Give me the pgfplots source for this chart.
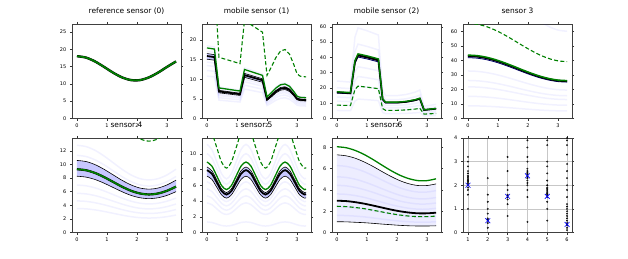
\documentclass[border=0pt]{standalone}
\usepackage{fontspec}
\setmainfont{DejaVu Sans}
\usepackage{pgfplots}
\usepackage{pgfplotstable}
\pgfplotsset{compat=1.18}
\definecolor{mplgreen}{RGB}{0,128,0}

\pgfplotsset{
  panel/.style={scale only axis, width=109bp, height=94.5bp, anchor=north west,
    xmin=-0.165, xmax=3.465, ymin=0, xtick={0,1,2,3},
    tick align=outside, major tick length=2.2bp,
    tick style={black!80, line width=0.5bp},
    axis line style={black!75, line width=0.6bp},
    tick label style={font=\fontsize{5.0}{6}\selectfont},
    xticklabel style={yshift=0.8bp},
    /pgf/number format/assume math mode=true,
    title style={font=\fontsize{7.5}{8}\selectfont, at={(0.5,1)}, anchor=base, yshift=4.2bp},
  },
  faint/.style={color=blue, opacity=0.055, line width=1.5bp, forget plot},
  band/.style={fill=blue, fill opacity=0.22, draw=none},
  thinb/.style={black, line width=0.6bp},
  thickb/.style={black, line width=1.8bp},
  gline/.style={mplgreen, line width=1.3bp},
  gdash/.style={mplgreen, line width=1.1bp, dash pattern=on 4bp off 2.3bp},
}

\pgfplotstableread{
x g
0 18.00
0.3 17.60
0.6 16.49
0.9 14.92
1.2 13.26
1.5 11.88
1.8 11.10
2.1 11.10
2.4 11.89
2.7 13.25
3.0 14.91
3.3 16.48
}\tA

\pgfplotstableread{
x g d u m l w f1 f2 f3 f4 f5 f6
0 18.0 36.0 16.56 15.93 15.12 1.44 10.80 12.24 13.50 14.40 17.10 18.54
0.25 17.7 35.4 16.28 15.66 14.87 1.41 10.62 12.04 13.28 14.16 16.82 18.23
0.4 7.8 15.6 7.18 6.90 6.55 0.63 4.68 5.30 5.85 6.24 7.41 8.03
1.1 7.0 14.0 6.44 6.20 5.88 0.56 4.20 4.76 5.25 5.60 6.65 7.21
1.25 12.5 25.0 11.50 11.06 10.50 1.00 7.50 8.50 9.38 10.00 11.88 12.88
1.85 11.0 22.0 10.12 9.74 9.24 0.88 6.60 7.48 8.25 8.80 10.45 11.33
2.0 5.5 11.0 5.06 4.87 4.62 0.44 3.30 3.74 4.13 4.40 5.23 5.67
2.15 6.6 13.2 6.07 5.84 5.54 0.53 3.96 4.49 4.95 5.28 6.27 6.80
2.3 7.8 15.6 7.18 6.90 6.55 0.63 4.68 5.30 5.85 6.24 7.41 8.03
2.45 8.6 17.2 7.91 7.61 7.22 0.69 5.16 5.85 6.45 6.88 8.17 8.86
2.6 8.8 17.6 8.10 7.79 7.39 0.71 5.28 5.98 6.60 7.04 8.36 9.06
2.75 8.2 16.4 7.54 7.26 6.89 0.65 4.92 5.58 6.15 6.56 7.79 8.45
2.9 6.8 13.6 6.26 6.02 5.71 0.55 4.08 4.62 5.10 5.44 6.46 7.00
3.0 5.7 11.4 5.24 5.04 4.79 0.45 3.42 3.88 4.28 4.56 5.42 5.87
3.1 5.4 10.8 4.97 4.78 4.54 0.43 3.24 3.67 4.05 4.32 5.13 5.56
3.3 5.3 10.6 4.88 4.69 4.45 0.43 3.18 3.60 3.98 4.24 5.04 5.46
}\tB

\pgfplotstableread{
x g d u m l w f1 f2 f3 f4 f5 f6
0 17.5 8.75 17.33 17.06 16.63 0.70 5.25 8.75 11.38 14.00 20.13 24.50
0.45 17.0 8.50 16.83 16.58 16.15 0.68 5.10 8.50 11.05 13.60 19.55 23.80
0.6 38.0 19.00 37.62 37.05 36.10 1.52 11.40 19.00 24.70 30.40 43.70 53.20
0.7 42.3 21.15 41.88 41.24 40.19 1.69 12.69 21.15 27.50 33.84 48.65 59.22
1.0 41.0 20.50 40.59 39.98 38.95 1.64 12.30 20.50 26.65 32.80 47.15 57.40
1.38 39.0 19.50 38.61 38.03 37.05 1.56 11.70 19.50 25.35 31.20 44.85 54.60
1.52 13.0 6.50 12.87 12.68 12.35 0.52 3.90 6.50 8.45 10.40 14.95 18.20
1.62 10.7 5.35 10.59 10.43 10.17 0.42 3.21 5.35 6.96 8.56 12.31 14.98
2.0 10.7 5.35 10.59 10.43 10.17 0.42 3.21 5.35 6.96 8.56 12.31 14.98
2.3 11.2 5.60 11.09 10.92 10.64 0.45 3.36 5.60 7.28 8.96 12.88 15.68
2.6 12.3 6.15 12.18 11.99 11.69 0.49 3.69 6.15 8.00 9.84 14.15 17.22
2.76 13.3 6.65 13.17 12.97 12.64 0.53 3.99 6.65 8.65 10.64 15.30 18.62
2.9 5.7 2.85 5.64 5.56 5.42 0.22 1.71 2.85 3.71 4.56 6.56 7.98
3.3 6.6 3.30 6.53 6.44 6.27 0.26 1.98 3.30 4.29 5.28 7.59 9.24
}\tC

\pgfplotstableread{
x g d m l w f1 f2 f3 f4 f5 f6
0 43.80 65.70 43.14 42.05 1.75 8.76 15.33 21.90 26.28 32.85 100.7
0.3 43.44 65.16 42.79 41.70 1.74 8.69 15.20 21.72 26.06 32.58 99.9
0.6 42.40 63.60 41.76 40.70 1.70 8.48 14.84 21.20 25.44 31.80 97.5
0.9 40.76 61.14 40.15 39.13 1.63 8.15 14.27 20.38 24.46 30.57 93.7
1.2 38.65 57.98 38.07 37.10 1.55 7.73 13.53 19.33 23.19 28.99 88.9
1.5 36.25 54.38 35.71 34.80 1.45 7.25 12.69 18.13 21.75 27.19 83.4
1.8 33.74 50.61 33.23 32.39 1.35 6.75 11.81 16.87 20.24 25.31 77.6
2.1 31.35 47.03 30.88 30.10 1.25 6.27 10.97 15.68 18.81 23.51 72.1
2.4 29.24 43.86 28.80 28.07 1.17 5.85 10.23 14.62 17.54 21.93 67.3
2.7 27.60 41.40 27.19 26.50 1.10 5.52 9.66 13.80 16.56 20.70 63.5
3.0 26.55 39.83 26.15 25.49 1.06 5.31 9.29 13.28 15.93 19.91 61.1
3.3 26.20 39.30 25.81 25.15 1.05 5.24 9.17 13.10 15.72 19.65 60.3
}\tD

\pgfplotstableread{
x g d u l w f1 f2 f3 f4 f5 f6
0 9.30 22.32 10.60 8.28 2.32 3.53 4.65 5.77 6.98 11.35 12.83
0.3 9.16 21.98 10.44 8.15 2.29 3.48 4.58 5.68 6.87 11.18 12.64
0.6 8.76 21.02 9.99 7.80 2.19 3.33 4.38 5.43 6.57 10.69 12.09
0.9 8.16 19.58 9.30 7.26 2.04 3.10 4.08 5.06 6.12 9.96 11.26
1.2 7.45 17.88 8.49 6.63 1.86 2.83 3.73 4.62 5.59 9.09 10.28
1.5 6.74 16.18 7.68 6.00 1.68 2.56 3.37 4.18 5.06 8.22 9.30
1.8 6.14 14.74 7.00 5.46 1.54 2.33 3.07 3.81 4.61 7.49 8.47
2.1 5.74 13.78 6.54 5.11 1.43 2.18 2.87 3.56 4.31 7.00 7.92
2.4 5.60 13.44 6.38 4.98 1.40 2.13 2.80 3.47 4.20 6.83 7.73
2.7 5.74 13.78 6.54 5.11 1.43 2.18 2.87 3.56 4.31 7.00 7.92
3.0 6.14 14.74 7.00 5.46 1.54 2.33 3.07 3.81 4.61 7.49 8.47
3.3 6.75 16.20 7.70 6.01 1.69 2.57 3.38 4.19 5.06 8.24 9.32
}\tE

\pgfplotstableread{
x g d u m l w f1 f2 f3 f4 f5 f6 f7
0 8.95 13.43 8.32 7.92 7.16 1.16 1.34 3.76 4.65 5.55 6.44 10.02 11.19
0.1625 8.44 12.66 7.85 7.47 6.75 1.10 1.27 3.54 4.39 5.23 6.08 9.45 10.55
0.325 7.20 10.80 6.70 6.37 5.76 0.94 1.08 3.02 3.74 4.46 5.18 8.06 9.00
0.4875 5.96 8.94 5.54 5.27 4.77 0.77 0.89 2.50 3.10 3.70 4.29 6.68 7.45
0.65 5.45 8.18 5.07 4.82 4.36 0.71 0.82 2.29 2.83 3.38 3.92 6.10 6.81
0.8125 5.96 8.94 5.54 5.27 4.77 0.77 0.89 2.50 3.10 3.70 4.29 6.68 7.45
0.975 7.20 10.80 6.70 6.37 5.76 0.94 1.08 3.02 3.74 4.46 5.18 8.06 9.00
1.1375 8.44 12.66 7.85 7.47 6.75 1.10 1.27 3.54 4.39 5.23 6.08 9.45 10.55
1.3 8.95 13.43 8.32 7.92 7.16 1.16 1.34 3.76 4.65 5.55 6.44 10.02 11.19
1.4625 8.44 12.66 7.85 7.47 6.75 1.10 1.27 3.54 4.39 5.23 6.08 9.45 10.55
1.625 7.20 10.80 6.70 6.37 5.76 0.94 1.08 3.02 3.74 4.46 5.18 8.06 9.00
1.7875 5.96 8.94 5.54 5.27 4.77 0.77 0.89 2.50 3.10 3.70 4.29 6.68 7.45
1.95 5.45 8.18 5.07 4.82 4.36 0.71 0.82 2.29 2.83 3.38 3.92 6.10 6.81
2.1125 5.96 8.94 5.54 5.27 4.77 0.77 0.89 2.50 3.10 3.70 4.29 6.68 7.45
2.275 7.20 10.80 6.70 6.37 5.76 0.94 1.08 3.02 3.74 4.46 5.18 8.06 9.00
2.4375 8.44 12.66 7.85 7.47 6.75 1.10 1.27 3.54 4.39 5.23 6.08 9.45 10.55
2.6 8.95 13.43 8.32 7.92 7.16 1.16 1.34 3.76 4.65 5.55 6.44 10.02 11.19
2.7625 8.44 12.66 7.85 7.47 6.75 1.10 1.27 3.54 4.39 5.23 6.08 9.45 10.55
2.925 7.20 10.80 6.70 6.37 5.76 0.94 1.08 3.02 3.74 4.46 5.18 8.06 9.00
3.0875 5.96 8.94 5.54 5.27 4.77 0.77 0.89 2.50 3.10 3.70 4.29 6.68 7.45
3.25 5.45 8.18 5.07 4.82 4.36 0.71 0.82 2.29 2.83 3.38 3.92 6.10 6.81
3.3 5.50 8.25 5.12 4.87 4.40 0.72 0.83 2.31 2.86 3.41 3.96 6.16 6.88
}\tF

\pgfplotstableread{
x g d u m l w f1 f2 f3 f4 f5 f6
0 8.05 2.46 7.29 2.98 1.01 6.28 1.61 2.42 3.62 4.43 5.23 6.28
0.3 7.96 2.43 7.20 2.95 1.00 6.20 1.59 2.39 3.58 4.38 5.17 6.21
0.6 7.71 2.35 6.98 2.85 0.96 6.02 1.54 2.31 3.47 4.24 5.01 6.01
0.9 7.33 2.24 6.63 2.71 0.92 5.71 1.47 2.20 3.30 4.03 4.76 5.72
1.2 6.85 2.09 6.20 2.53 0.86 5.34 1.37 2.06 3.08 3.77 4.45 5.34
1.5 6.32 1.93 5.72 2.34 0.79 4.93 1.26 1.90 2.84 3.48 4.11 4.93
1.8 5.81 1.77 5.26 2.15 0.73 4.53 1.16 1.74 2.61 3.20 3.78 4.53
2.1 5.37 1.64 4.86 1.99 0.67 4.19 1.07 1.61 2.42 2.95 3.49 4.19
2.4 5.05 1.54 4.57 1.87 0.63 3.94 1.01 1.52 2.27 2.78 3.28 3.94
2.7 4.87 1.49 4.41 1.80 0.61 3.80 0.97 1.46 2.19 2.68 3.17 3.80
3.0 4.87 1.49 4.41 1.80 0.61 3.80 0.97 1.46 2.19 2.68 3.17 3.80
3.3 5.04 1.54 4.56 1.86 0.63 3.93 1.01 1.51 2.27 2.77 3.28 3.93
}\tG

\begin{document}
\begin{tikzpicture}
\path[use as bounding box] (0,0) rectangle (628bp,-259bp);

% ---- panel 1: reference sensor (0)
\begin{axis}[panel, at={(72bp,-24bp)}, ymax=27.3, ytick={0,5,...,25}, title={reference sensor (0)}]
\addplot[black, line width=2.4bp, smooth] table[x=x,y=g]{\tA};
\addplot[mplgreen, line width=1.7bp, smooth] table[x=x,y=g]{\tA};
\end{axis}

% ---- panel 2: mobile sensor (1)
\begin{axis}[panel, at={(202bp,-24bp)}, ymax=24.1, ytick={0,5,...,20}, title={mobile sensor (1)}]
\addplot[faint] table[x=x,y=f1]{\tB};
\addplot[faint] table[x=x,y=f2]{\tB};
\addplot[faint] table[x=x,y=f3]{\tB};
\addplot[faint] table[x=x,y=f4]{\tB};
\addplot[faint] table[x=x,y=f5]{\tB};
\addplot[faint] table[x=x,y=f6]{\tB};
\addplot[draw=none, stack plots=y, forget plot] table[x=x,y=l]{\tB};
\addplot[band, stack plots=y] table[x=x,y=w]{\tB} \closedcycle;
\addplot[thinb] table[x=x,y=u]{\tB};
\addplot[thinb] table[x=x,y=l]{\tB};
\addplot[thickb] table[x=x,y=m]{\tB};
\addplot[gline] table[x=x,y=g]{\tB};
\addplot[gdash] table[x=x,y=d]{\tB};
\end{axis}

% ---- panel 3: mobile sensor (2)
\begin{axis}[panel, at={(332bp,-24bp)}, ymax=61.8, ytick={0,10,...,60}, title={mobile sensor (2)}]
\addplot[faint] table[x=x,y=f1]{\tC};
\addplot[faint] table[x=x,y=f2]{\tC};
\addplot[faint] table[x=x,y=f3]{\tC};
\addplot[faint] table[x=x,y=f4]{\tC};
\addplot[faint] table[x=x,y=f5]{\tC};
\addplot[faint] table[x=x,y=f6]{\tC};
\addplot[draw=none, stack plots=y, forget plot] table[x=x,y=l]{\tC};
\addplot[band, stack plots=y] table[x=x,y=w]{\tC} \closedcycle;
\addplot[thinb] table[x=x,y=u]{\tC};
\addplot[black!60!blue, line width=0.8bp] table[x=x,y=l]{\tC};
\addplot[thickb] table[x=x,y=m]{\tC};
\addplot[gline] table[x=x,y=g]{\tC};
\addplot[gdash] table[x=x,y=d]{\tC};
\end{axis}

% ---- panel 4: sensor 3
\begin{axis}[panel, at={(463bp,-24bp)}, ymax=65.3, ytick={0,10,...,60}, title={sensor 3}]
\addplot[faint, smooth] table[x=x,y=f1]{\tD};
\addplot[faint, smooth] table[x=x,y=f2]{\tD};
\addplot[faint, smooth] table[x=x,y=f3]{\tD};
\addplot[faint, smooth] table[x=x,y=f4]{\tD};
\addplot[faint, smooth] table[x=x,y=f5]{\tD};
\addplot[faint, smooth] table[x=x,y=f6]{\tD};
\addplot[draw=none, stack plots=y, forget plot, smooth] table[x=x,y=l]{\tD};
\addplot[band, stack plots=y, smooth] table[x=x,y=w]{\tD} \closedcycle;
\addplot[black!60!blue, line width=0.8bp, smooth] table[x=x,y=l]{\tD};
\addplot[thickb, smooth] table[x=x,y=m]{\tD};
\addplot[gline, line width=1.5bp, smooth] table[x=x,y=g]{\tD};
\addplot[gdash, smooth] table[x=x,y=d]{\tD};
\end{axis}

% ---- panel 5: sensor 4
\begin{axis}[panel, at={(72bp,-138bp)}, ymax=13.9, ytick={0,2,...,12}, title={sensor 4}]
\addplot[faint, smooth] table[x=x,y=f1]{\tE};
\addplot[faint, smooth] table[x=x,y=f2]{\tE};
\addplot[faint, smooth] table[x=x,y=f3]{\tE};
\addplot[faint, smooth] table[x=x,y=f4]{\tE};
\addplot[faint, smooth] table[x=x,y=f5]{\tE};
\addplot[faint, smooth] table[x=x,y=f6]{\tE};
\addplot[draw=none, stack plots=y, forget plot, smooth] table[x=x,y=l]{\tE};
\addplot[band, stack plots=y, smooth] table[x=x,y=w]{\tE} \closedcycle;
\addplot[thinb, smooth] table[x=x,y=u]{\tE};
\addplot[thinb, smooth] table[x=x,y=l]{\tE};
\addplot[black, line width=2.2bp, smooth] table[x=x,y=g]{\tE};
\addplot[gline, line width=1.6bp, smooth] table[x=x,y=g]{\tE};
\addplot[gdash, smooth] table[x=x,y=d]{\tE};
\end{axis}

% ---- panel 6: sensor 5
\begin{axis}[panel, at={(202bp,-138bp)}, ymax=12.0, ytick={0,2,...,10}, title={sensor 5}]
\addplot[faint, smooth] table[x=x,y=f1]{\tF};
\addplot[faint, smooth] table[x=x,y=f2]{\tF};
\addplot[faint, smooth] table[x=x,y=f3]{\tF};
\addplot[faint, smooth] table[x=x,y=f4]{\tF};
\addplot[faint, smooth] table[x=x,y=f5]{\tF};
\addplot[faint, smooth] table[x=x,y=f6]{\tF};
\addplot[faint, smooth] table[x=x,y=f7]{\tF};
\addplot[draw=none, stack plots=y, forget plot, smooth] table[x=x,y=l]{\tF};
\addplot[band, stack plots=y, smooth] table[x=x,y=w]{\tF} \closedcycle;
\addplot[thinb, smooth] table[x=x,y=u]{\tF};
\addplot[thinb, smooth] table[x=x,y=l]{\tF};
\addplot[thickb, smooth] table[x=x,y=m]{\tF};
\addplot[gline, smooth] table[x=x,y=g]{\tF};
\addplot[gdash, smooth] table[x=x,y=d]{\tF};
\end{axis}

% ---- panel 7: sensor 6
\begin{axis}[panel, at={(332bp,-138bp)}, ymax=8.87, ytick={0,2,...,8}, title={sensor 6}]
\addplot[faint, smooth] table[x=x,y=f1]{\tG};
\addplot[faint, smooth] table[x=x,y=f2]{\tG};
\addplot[faint, smooth] table[x=x,y=f3]{\tG};
\addplot[faint, smooth] table[x=x,y=f4]{\tG};
\addplot[faint, smooth] table[x=x,y=f5]{\tG};
\addplot[faint, smooth] table[x=x,y=f6]{\tG};
\addplot[draw=none, stack plots=y, forget plot, smooth] table[x=x,y=l]{\tG};
\addplot[fill=blue, fill opacity=0.07, draw=none, stack plots=y, smooth] table[x=x,y=w]{\tG} \closedcycle;
\addplot[thinb, smooth] table[x=x,y=u]{\tG};
\addplot[thinb, smooth] table[x=x,y=l]{\tG};
\addplot[thickb, smooth] table[x=x,y=m]{\tG};
\addplot[gline, smooth] table[x=x,y=g]{\tG};
\addplot[gdash, smooth] table[x=x,y=d]{\tG};
\end{axis}

% ---- panel 8: scatter
\begin{axis}[panel, at={(463bp,-138bp)}, xmin=0.75, xmax=6.25, ymin=0, ymax=4,
  xtick={1,...,6}, ytick={0,...,4}, grid=major, grid style={black!22, line width=0.7bp}]
\addplot[only marks, mark=*, mark size=0.75bp, mark options={draw=none, fill=black, fill opacity=0.16}] coordinates {
(1,1.0) (1,1.6) (1,1.8) (1,1.9) (1,2.0) (1,2.05) (1,2.1) (1,2.15) (1,2.2) (1,2.25) (1,2.3) (1,2.35) (1,2.4) (1,2.5) (1,2.6) (1,2.8) (1,3.0) (1,3.2)
(2,0.2) (2,0.4) (2,0.5) (2,0.55) (2,0.6) (2,0.8) (2,1.0) (2,1.3) (2,1.6) (2,2.3)
(3,0.7) (3,1.2) (3,1.4) (3,1.5) (3,1.55) (3,1.6) (3,1.8) (3,2.0) (3,2.6) (3,3.2)
(4,0.45) (4,1.5) (4,1.8) (4,2.0) (4,2.1) (4,2.2) (4,2.3) (4,2.35) (4,2.4) (4,2.45) (4,2.5) (4,2.55) (4,2.6) (4,2.7) (4,3.0) (4,3.2) (4,3.6) (4,3.9)
(5,0.5) (5,1.0) (5,1.3) (5,1.5) (5,1.55) (5,1.6) (5,1.65) (5,1.7) (5,1.75) (5,1.8) (5,1.85) (5,1.9) (5,2.0) (5,2.2) (5,2.5) (5,2.8) (5,3.0) (5,3.7) (5,3.9)
(6,0.1) (6,0.2) (6,0.3) (6,0.35) (6,0.4) (6,0.5) (6,0.6) (6,0.7) (6,0.8) (6,0.9) (6,1.0) (6,1.1) (6,1.2) (6,1.5) (6,1.8) (6,2.0) (6,2.3) (6,2.6) (6,2.9) (6,3.3) (6,3.7) (6,3.9) (6,4.0)
};
\addplot[only marks, mark=x, mark size=3.4bp, blue, line width=0.6bp] coordinates {
(1,2.0) (2,0.5) (3,1.53) (4,2.4) (5,1.53) (6,0.34)
};
\end{axis}
\end{tikzpicture}
\end{document}
